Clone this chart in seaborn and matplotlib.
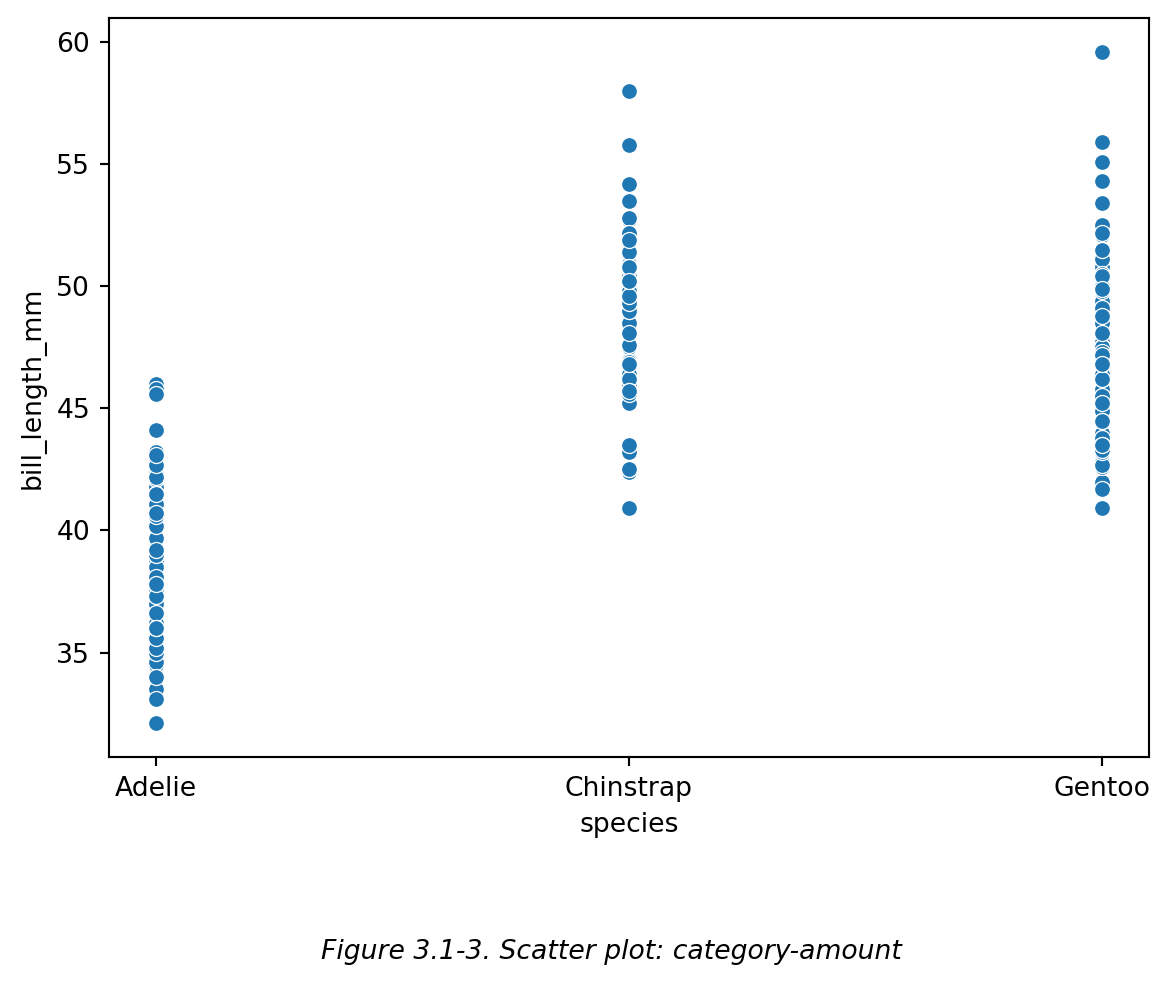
import matplotlib
matplotlib.use("Agg")
import matplotlib.pyplot as plt
import seaborn as sns
import pandas as pd

adelie = [39.1, 39.5, 40.3, 36.7, 39.3, 38.9, 39.2, 34.1, 42.0, 37.8, 37.8, 41.1, 38.6, 34.6, 36.6,
          38.7, 42.5, 34.4, 46.0, 37.8, 37.7, 35.9, 38.2, 38.8, 35.3, 40.6, 40.5, 37.9, 40.5, 39.5,
          37.2, 39.5, 40.9, 36.4, 39.2, 38.8, 42.2, 37.6, 39.8, 36.5, 40.8, 36.0, 44.1, 37.0, 39.6,
          41.1, 37.5, 36.0, 42.3, 39.6, 40.1, 35.0, 42.0, 34.5, 41.4, 39.0, 40.6, 36.5, 37.6, 35.7,
          41.3, 37.6, 41.1, 36.4, 41.6, 35.5, 41.1, 35.9, 41.8, 33.5, 39.7, 39.6, 45.8, 35.5, 42.8,
          40.9, 37.2, 36.2, 42.1, 34.6, 42.9, 36.7, 35.1, 37.3, 41.3, 36.3, 36.9, 38.3, 38.9, 35.7,
          41.1, 34.0, 39.6, 36.2, 40.8, 38.1, 40.3, 33.1, 43.2, 35.0, 41.0, 37.7, 37.8, 37.9, 39.7,
          38.6, 38.2, 38.1, 43.2, 38.1, 45.6, 39.7, 42.2, 39.6, 42.7, 38.6, 37.3, 35.7, 41.1, 36.2,
          37.7, 40.2, 41.4, 35.2, 40.6, 38.8, 41.5, 39.0, 44.1, 38.5, 43.1, 36.8, 37.5, 38.1, 41.1,
          35.6, 40.2, 37.0, 39.7, 40.2, 40.6, 32.1, 40.7, 37.3, 39.0, 39.2, 36.6, 36.0, 37.8, 36.0,
          41.5]
chinstrap = [46.5, 50.0, 51.3, 45.4, 52.7, 45.2, 46.1, 51.3, 46.0, 51.3, 46.6, 51.7, 47.0, 52.0,
             45.9, 50.5, 50.3, 58.0, 46.4, 49.2, 42.4, 48.5, 43.2, 50.6, 46.7, 52.0, 50.5, 49.5,
             46.4, 52.8, 40.9, 54.2, 42.5, 51.0, 49.7, 47.5, 47.6, 52.0, 46.9, 53.5, 49.0, 46.2,
             50.9, 45.5, 50.9, 50.8, 50.1, 49.0, 51.5, 49.8, 48.1, 51.4, 45.7, 50.7, 42.5, 52.2,
             45.2, 49.3, 50.2, 45.6, 51.9, 46.8, 45.7, 55.8, 43.5, 49.6, 50.8, 50.2]
gentoo = [46.1, 50.0, 48.7, 50.0, 47.6, 46.5, 45.4, 46.7, 43.3, 46.8, 40.9, 49.0, 45.5, 48.4, 45.8,
          49.3, 42.0, 49.2, 46.2, 48.7, 50.2, 45.1, 46.5, 46.3, 42.9, 46.1, 44.5, 47.8, 48.2, 50.0,
          47.3, 42.8, 45.1, 59.6, 49.1, 48.4, 42.6, 44.4, 44.0, 48.7, 42.7, 49.6, 45.3, 49.6, 50.5,
          43.6, 45.5, 50.5, 44.9, 45.2, 46.6, 48.5, 45.1, 50.1, 46.5, 45.0, 43.8, 45.5, 43.2, 50.4,
          45.3, 46.2, 45.7, 54.3, 45.8, 49.8, 46.2, 49.5, 43.5, 50.7, 47.7, 46.4, 48.2, 46.5, 46.4,
          48.6, 47.5, 51.1, 45.2, 45.2, 49.1, 52.5, 47.4, 50.0, 44.9, 50.8, 43.4, 51.3, 47.5, 52.1,
          47.5, 52.2, 45.5, 49.5, 44.5, 50.8, 49.4, 46.9, 48.4, 51.1, 48.5, 55.9, 47.2, 49.1, 47.3,
          46.8, 41.7, 53.4, 43.3, 48.1, 50.5, 49.8, 43.5, 51.5, 46.2, 55.1, 44.5, 48.8, 47.2, 46.8,
          50.4, 45.2, 49.9]

species = ["Adelie"] * len(adelie) + ["Chinstrap"] * len(chinstrap) + ["Gentoo"] * len(gentoo)
values = adelie + chinstrap + gentoo
df = pd.DataFrame({"species": species, "bill_length_mm": values})

DPI = 192
fig = plt.figure(figsize=(1170 / DPI, 985 / DPI), dpi=DPI)
ax = fig.add_axes([0.093, 0.2315, 0.889, 0.750])
sns.scatterplot(data=df, x="species", y="bill_length_mm", ax=ax)
fig.text(0.523, 0.034, "Figure 3.1-3. Scatter plot: category-amount", ha="center", va="center",
         style="italic", fontsize=10)
fig.savefig("out.png", dpi=DPI)
